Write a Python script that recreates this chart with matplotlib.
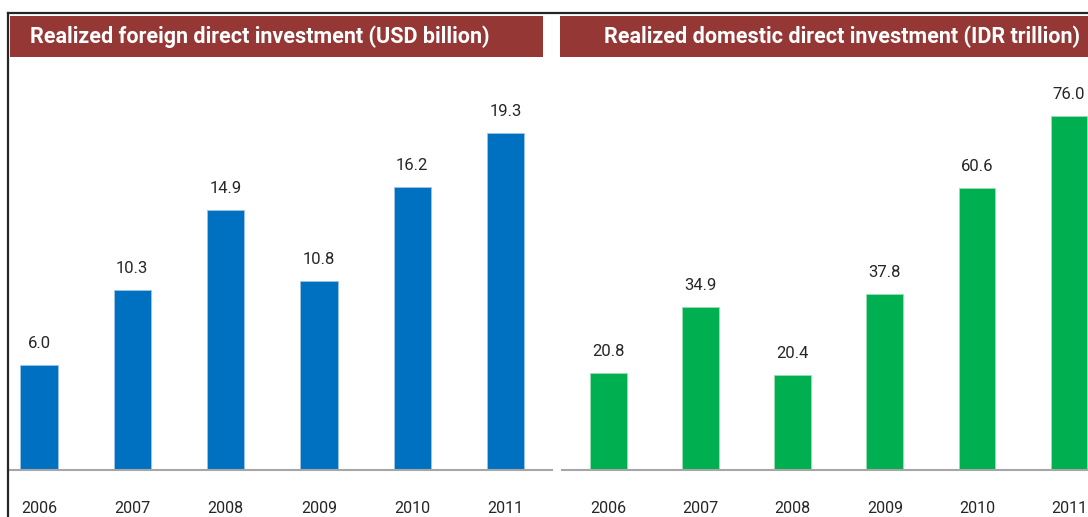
import numpy as np
import matplotlib.pyplot as plt
from matplotlib.patches import Rectangle
from matplotlib.lines import Line2D

years = ['2006', '2007', '2008', '2009', '2010', '2011']
fdi_usd = [6.0, 10.3, 14.9, 10.8, 16.2, 19.3]
ddi_idr = [20.8, 34.9, 20.4, 37.8, 60.6, 76.0]

title_left = 'Realized foreign direct investment (USD billion)'
title_right = 'Realized domestic direct investment (IDR trillion)'

W, H = 1088, 517
fam = ['Roboto', 'DejaVu Sans']
red = '#953735'

fig = plt.figure(figsize=(W / 100, H / 100), dpi=100)
fig.patch.set_facecolor('white')


def px(x0, y0, x1, y1):
    # pixel box (top-left origin) -> figure fraction
    return [x0 / W, 1 - y1 / H, (x1 - x0) / W, (y1 - y0) / H]


def panel(box, vals, color, edge, xlim, ymax):
    ax = fig.add_axes(px(*box))
    x = np.arange(len(vals))
    ax.bar(x, vals, width=0.40, color=color, edgecolor=edge, linewidth=0.6, zorder=2)
    for xi, v in zip(x, vals):
        ax.annotate('%.1f' % v, (xi, v), xytext=(0, 14), textcoords='offset pixels',
                    ha='center', va='bottom', fontsize=12, color='#262626', family=fam)
    ax.set_xlim(*xlim)
    ax.set_ylim(0, ymax)
    ax.set_xticks(x)
    ax.set_xticklabels(years, family=fam, fontsize=11.5, color='#262626')
    ax.tick_params(axis='x', length=0, pad=22)
    ax.set_yticks([])
    for s in ['top', 'right', 'left']:
        ax.spines[s].set_visible(False)
    ax.spines['bottom'].set_color('#a6a6a6')
    ax.spines['bottom'].set_linewidth(1.5)
    ax.patch.set_alpha(0)
    return ax


base = 470
top = 60
panel((8, top, 552, base), fdi_usd, '#0070c0', '#9dc3e6', (-0.332, 5.498), (base - top) / 17.46)
panel((562, top, 1088, base), ddi_idr, '#00b050', '#9be0b4', (-0.505, 5.206), (base - top) / 4.66)

# title bars, text fitted to the width seen in the reference
renderer = fig.canvas.get_renderer()
for x0, x1, t, tx, tw in [(10, 543, title_left, 30, 462), (560, 1088, title_right, 1080, 478)]:
    r = Rectangle((x0 / W, 1 - 57 / H), (x1 - x0) / W, 41 / H, transform=fig.transFigure,
                  facecolor=red, edgecolor='none')
    fig.patches.append(r)
    txt = fig.text(tx / W, 1 - 37 / H, t, color='white', fontsize=15, fontweight='bold',
                   family=fam, ha='left' if tx < 500 else 'right', va='center')
    w = txt.get_window_extent(renderer).width
    txt.set_fontsize(15 * tw / w)

# frame lines
fig.add_artist(Line2D([8 / W, 1], [1 - 13 / H, 1 - 13 / H], color='#262626', lw=1.6))
fig.add_artist(Line2D([8 / W, 8 / W], [1 - 13 / H, 0], color='#262626', lw=1.6))

fig.savefig('out.png', dpi=100)
